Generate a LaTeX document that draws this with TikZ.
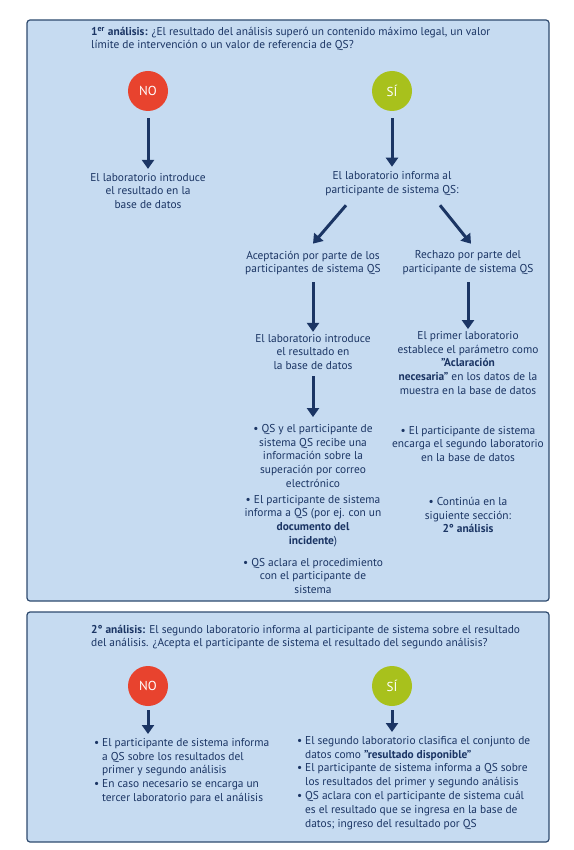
\documentclass[tikz,border=0pt]{standalone}
\usepackage{fontspec}
\setmainfont{PT Sans}
\usetikzlibrary{arrows.meta, positioning}

\definecolor{qsblue}{HTML}{1B3564}
\definecolor{panelfill}{HTML}{C6DBF1}
\definecolor{panelline}{HTML}{2E4A6E}
\definecolor{nored}{HTML}{E8432E}
\definecolor{sigreen}{HTML}{A8C11C}

\newcommand{\bltm}{\makebox[8pt][l]{\textbullet}}
\newcommand{\indm}{\hspace*{8pt}}

\tikzset{
  panel/.style={draw=panelline, line width=1.2pt, fill=panelfill, rounded corners=3pt},
  txt/.style={text=qsblue, font=\fontsize{11.4}{13.8}\selectfont, align=center, inner sep=1pt},
  head/.style={txt, align=left, font=\fontsize{11.4}{12.8}\selectfont},
  answer/.style={circle, minimum size=40pt, inner sep=0pt, text=white, font=\fontsize{13}{15}\selectfont},
  bigarrow/.style={draw=qsblue, line width=3pt, -{Triangle[width=12pt,length=9pt]}},
}

\begin{document}
\begin{tikzpicture}[x=1pt, y=-1pt]
    \useasboundingbox (0,0) rectangle (573,850);

    % first analysis
    \draw[panel] (27,20) rectangle (549,601);
    \node[head, anchor=west] (title1) at (90,39)
        {\textbf{1\textsuperscript{er} análisis:} ¿El resultado del análisis superó un contenido máximo legal, un valor\\límite de intervención o un valor de referencia de QS?};

    \node[answer, fill=nored] (no1) at (148,91) {NO};
    \node[answer, fill=sigreen] (si1) at (392,91) {SÍ};

    \node[txt] (nolab) at (148,191) {El laboratorio introduce\\el resultado en la\\base de datos};
    \node[txt] (silab) at (392,184) {El laboratorio informa al\\participante de sistema QS:};

    \node[txt] (acept) at (313,263) {Aceptación por parte de los\\participantes de sistema QS};
    \node[txt] (rech) at (468,263) {Rechazo por parte del\\participante de sistema QS};

    \node[txt] (acintro) at (313,352) {El laboratorio introduce\\el resultado en\\la base de datos};
    \node[txt] (acmail) at (313,456) {\textbullet\ QS y el participante de\\sistema QS recibe una\\información sobre la\\superación por correo\\electrónico};
    \node[txt] (acdoc) at (313,521) {\textbullet\ El participante de sistema\\informa a QS (por ej. con un\\\textbf{documento del}\\\textbf{incidente})};
    \node[txt] (acproc) at (313,576) {\textbullet\ QS aclara el procedimiento\\con el participante de\\sistema};

    \node[txt] (rcprim) at (468,363) {El primer laboratorio\\establece el parámetro como\\\textbf{"Aclaración}\\\textbf{necesaria"} en los datos de la\\muestra en la base de datos};
    \node[txt] (rcenc) at (468,444) {\textbullet\ El participante de sistema\\encarga el segundo laboratorio\\en la base de datos};
    \node[txt] (rccont) at (468,515) {\textbullet\ Continúa en la\\siguiente sección:\\\textbf{2° análisis}};

    \draw[bigarrow, shorten <=7pt, shorten >=3pt] (no1.south) -- (nolab.north);
    \draw[bigarrow, shorten <=7pt, shorten >=4pt] (si1.south) -- (silab.north);
    \draw[bigarrow] ([xshift=-46pt, yshift=-8pt]silab.south) -- ([yshift=6pt]acept.north);
    \draw[bigarrow] ([xshift=48pt, yshift=-8pt]silab.south) -- ([xshift=3pt, yshift=6pt]rech.north);
    \draw[bigarrow, shorten <=6pt, shorten >=1pt] (acept.south) -- (acintro.north);
    \draw[bigarrow, shorten <=6pt, shorten >=1pt] (rech.south) -- (rcprim.north);
    \draw[bigarrow, shorten <=5pt, shorten >=6pt] (acintro.south) -- (acmail.north);

    % second analysis
    \draw[panel] (27,612) rectangle (549,842);
    \node[head, anchor=west] (title2) at (90,637)
        {\textbf{2° análisis:} El segundo laboratorio informa al participante de sistema sobre el resultado\\del análisis. ¿Acepta el participante de sistema el resultado del segundo análisis?};

    \node[answer, fill=nored] (no2) at (148,686) {NO};
    \node[answer, fill=sigreen] (si2) at (392,686) {SÍ};

    \node[txt, align=left, anchor=north west] (nolist) at (93,737)
        {\bltm El participante de sistema informa\\
         \indm a QS sobre los resultados del\\
         \indm primer y segundo análisis\\
         \bltm En caso necesario se encarga un\\
         \indm tercer laboratorio para el análisis};
    \node[txt, align=left, anchor=north west] (silist) at (296,735)
        {\bltm El segundo laboratorio clasifica el conjunto de\\
         \indm datos como \textbf{"resultado disponible"}\\
         \bltm El participante de sistema informa a QS sobre\\
         \indm los resultados del primer y segundo análisis\\
         \bltm QS aclara con el participante de sistema cuál\\
         \indm es el resultado que se ingresa en la base de\\
         \indm datos; ingreso del resultado por QS};

    \draw[bigarrow, shorten <=4pt, shorten >=3pt] (no2.south) -- (no2.south |- nolist.north);
    \draw[bigarrow, shorten <=4pt, shorten >=3pt] (si2.south) -- (si2.south |- silist.north);
\end{tikzpicture}
\end{document}
